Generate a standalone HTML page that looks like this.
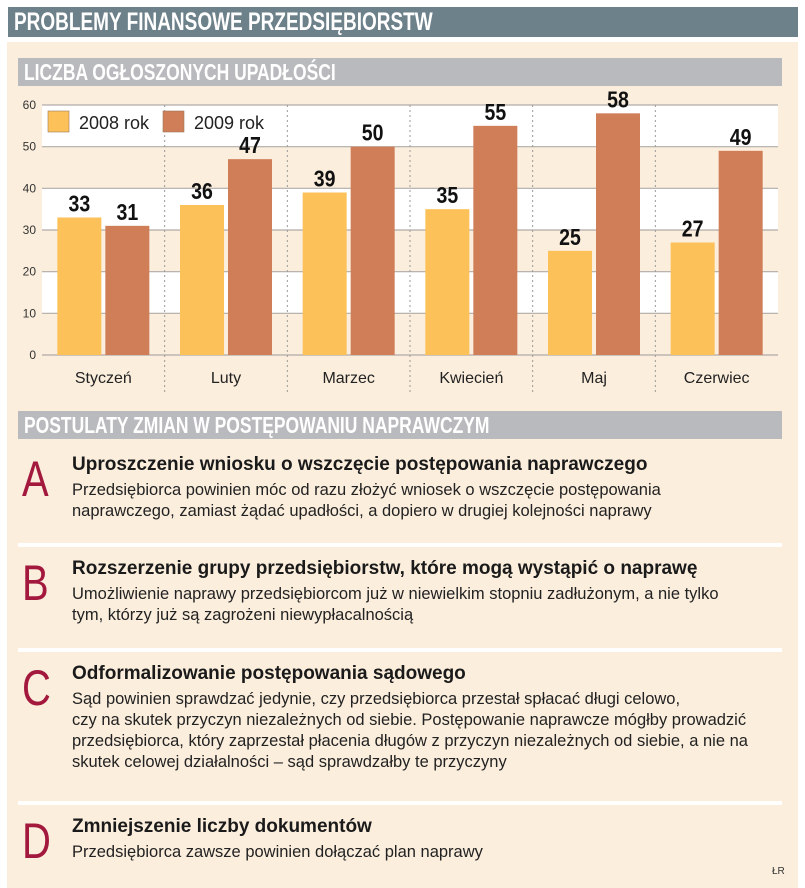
<!DOCTYPE html>
<html><head><meta charset="utf-8">
<style>
body{margin:0;width:805px;height:888px;background:#fff;font-family:"Liberation Sans",sans-serif;overflow:hidden;position:relative}
.abs{position:absolute}
.sc{display:inline-block;transform:scaleX(0.76);transform-origin:left center;white-space:nowrap}
.hdr{left:8px;top:7px;width:790px;height:30px;background:#6d818b;color:#fff;font-weight:bold;font-size:25px;line-height:31px;padding-left:6px;box-sizing:border-box}
.panel{left:7px;top:42px;width:791px;height:846px;background:#fbeedd}
.sub{left:18px;width:764px;height:28px;background:#b9babd;color:#fff;font-weight:bold;font-size:23px;line-height:29px;padding-left:6px;box-sizing:border-box}
.item{left:20px;width:760px}
.let{position:absolute;left:2px;top:0;color:#a3183d;font-size:50px;line-height:50px}
.let span{display:inline-block;transform:scaleX(0.8);transform-origin:left center}
.tt{position:absolute;left:52px;top:0;font-weight:bold;font-size:19px;color:#1a1a1a;white-space:nowrap}
.tx{position:absolute;left:52px;top:26px;font-size:16.5px;line-height:21px;color:#222;white-space:nowrap}
.div{left:18px;width:764px;height:4px;background:#fff}
</style></head><body>
<div class="abs hdr"><span class="sc">PROBLEMY FINANSOWE PRZEDSIĘBIORSTW</span></div>
<div class="abs panel"></div>
<div class="abs sub" style="top:58px"><span class="sc">LICZBA OGŁOSZONYCH UPADŁOŚCI</span></div>
<svg class="abs" style="left:0;top:90px" width="805" height="310" id="chart"></svg>
<div class="abs sub" style="top:411px"><span class="sc">POSTULATY ZMIAN W POSTĘPOWANIU NAPRAWCZYM</span></div>

<div class="abs item" style="top:454px">
<div class="let"><span>A</span></div><div class="tt">Uproszczenie wniosku o wszczęcie postępowania naprawczego</div>
<div class="tx">Przedsiębiorca powinien móc od razu złożyć wniosek o wszczęcie postępowania<br>naprawczego, zamiast żądać upadłości, a dopiero w drugiej kolejności naprawy</div></div>
<div class="abs div" style="top:543px"></div>
<div class="abs item" style="top:558px">
<div class="let"><span>B</span></div><div class="tt">Rozszerzenie grupy przedsiębiorstw, które mogą wystąpić o naprawę</div>
<div class="tx">Umożliwienie naprawy przedsiębiorcom już w niewielkim stopniu zadłużonym, a nie tylko<br>tym, którzy już są zagrożeni niewypłacalnością</div></div>
<div class="abs div" style="top:648px"></div>
<div class="abs item" style="top:663px">
<div class="let"><span>C</span></div><div class="tt">Odformalizowanie postępowania sądowego</div>
<div class="tx">Sąd powinien sprawdzać jedynie, czy przedsiębiorca przestał spłacać długi celowo,<br>czy na skutek przyczyn niezależnych od siebie. Postępowanie naprawcze mógłby prowadzić<br>przedsiębiorca, który zaprzestał płacenia długów z przyczyn niezależnych od siebie, a nie na<br>skutek celowej działalności – sąd sprawdzałby te przyczyny</div></div>
<div class="abs div" style="top:801px"></div>
<div class="abs item" style="top:816px">
<div class="let"><span>D</span></div><div class="tt">Zmniejszenie liczby dokumentów</div>
<div class="tx">Przedsiębiorca zawsze powinien dołączać plan naprawy</div></div>
<div class="abs" style="left:772px;top:866px;font-size:10px;color:#333">ŁR</div>

<script>
const categories=["Styczeń","Luty","Marzec","Kwiecień","Maj","Czerwiec"];
const values2008=[33,36,39,35,25,27];
const values2009=[31,47,50,55,58,49];
const yTicks=[0,10,20,30,40,50,60];
const seriesNames=["2008 rok","2009 rok"];
const svg=document.getElementById('chart');
const NS="http://www.w3.org/2000/svg";
const X0=42,X1=778,Y0=265,YT=15;
const y=v=>Y0-(v/60)*(Y0-YT);
const cw=(X1-X0)/categories.length;
const xc=i=>X0+cw*i;
function mk(t,a){const e=document.createElementNS(NS,t);for(const k in a)e.setAttribute(k,a[k]);svg.appendChild(e);return e;}
for(let i=0;i<6;i++){
  const r=mk('rect',{x:X0,y:y(yTicks[i+1]),width:X1-X0,height:y(yTicks[i])-y(yTicks[i+1]),fill:(i%2===0)?'#fbeedd':'#ffffff'});
  
  
}
yTicks.forEach(t=>{
  const l=mk('line',{x1:X0,x2:X1,y1:y(t),y2:y(t),stroke:'#b0aca8','stroke-width':1.2});
  
  
  const tx=mk('text',{x:36,y:y(t)+4,'text-anchor':'end','font-size':12,fill:'#333'});
  tx.textContent=t;
  
  
});
for(let i=1;i<categories.length;i++){
  const l=mk('line',{x1:xc(i),x2:xc(i),y1:YT,y2:Y0+40,stroke:'#999','stroke-dasharray':'2,3'});
  
  
}
const bw=44;
categories.forEach((c,i)=>{
  const cx=xc(i)+cw/2;
  [[values2008[i],'#fcc159',cx-bw-2],[values2009[i],'#cf7e58',cx+2]].forEach((d,j)=>{
    const r=mk('rect',{x:d[2],y:y(d[0]),width:bw,height:Y0-y(d[0]),fill:d[1]});
    
    
    const t=mk('text',{x:d[2]+bw/2,y:y(d[0])-6,'text-anchor':'middle','font-size':23,'font-weight':'bold',fill:'#111',transform:`translate(${(d[2]+bw/2)*0.15},0) scale(0.85,1)`});
    t.textContent=d[0];
    
    
  });
  const t=mk('text',{x:cx,y:Y0+28,'text-anchor':'middle','font-size':16,fill:'#222'});
  t.textContent=c;
  
  
});
[['#fcc159',48,seriesNames[0]],['#cf7e58',163,seriesNames[1]]].forEach(l=>{
  const r=mk('rect',{x:l[1],y:21,width:21,height:21,fill:l[0],stroke:'#9b7a5a','stroke-width':0.6});
  
  
  const t=mk('text',{x:l[1]+31,y:39,'font-size':18,fill:'#222'});
  t.textContent=l[2];
  
  
});
</script>
</body></html>
